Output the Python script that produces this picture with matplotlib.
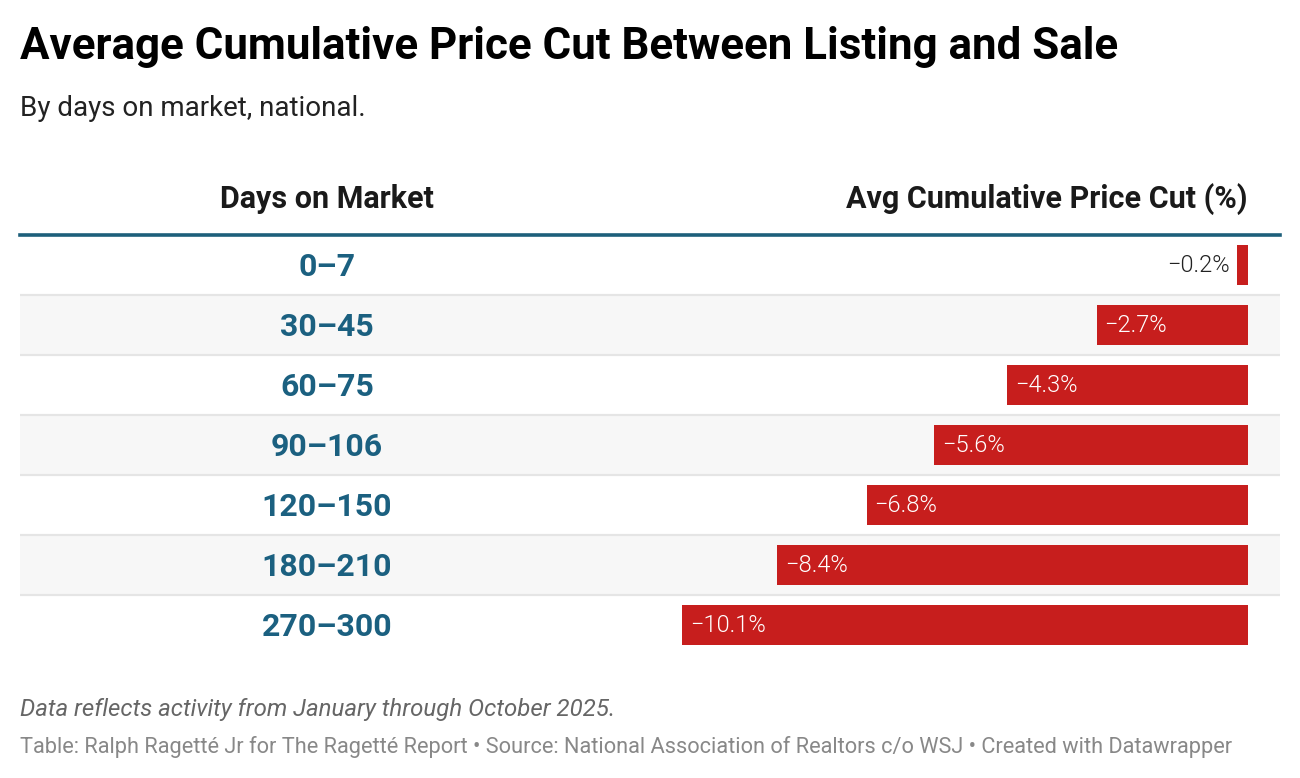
import matplotlib
matplotlib.use("Agg")
import matplotlib.pyplot as plt
import matplotlib.transforms as mtransforms

plt.rcParams['font.family'] = ['Roboto', 'DejaVu Sans']

categories = ["0–7", "30–45", "60–75", "90–106", "120–150", "180–210", "270–300"]
values = [-0.2, -2.7, -4.3, -5.6, -6.8, -8.4, -10.1]
labels = ["−0.2%", "−2.7%", "−4.3%", "−5.6%", "−6.8%", "−8.4%", "−10.1%"]

title = "Average Cumulative Price Cut Between Listing and Sale"
subtitle = "By days on market, national."
col1 = "Days on Market"
col2 = "Avg Cumulative Price Cut (%)"
note = "Data reflects activity from January through October 2025."
source = "Table: Ralph Ragetté Jr for The Ragetté Report • Source: National Association of Realtors c/o WSJ • Created with Datawrapper"

W, H = 1300, 778
fig = plt.figure(figsize=(W / 100, H / 100), dpi=100)
fig.patch.set_facecolor("white")

RED = "#c71e1d"
TEAL = "#1b6080"

top, bottom = 235, 655
left, right = 20, 1280
ax = fig.add_axes([left / W, 1 - bottom / H, (right - left) / W, (bottom - top) / H])
ax.set_axis_off()

scale = 566 / 10.1  # px per unit
zero_px = 1248
ax.set_xlim(-(zero_px - left) / scale, (right - zero_px) / scale)
n = len(categories)
ax.set_ylim(n - 0.5, -0.5)

for i in range(n):
    if i % 2 == 1:
        ax.axhspan(i - 0.5, i + 0.5, color="#f7f7f7", zorder=0, lw=0)
    if i > 0:
        ax.axhline(i - 0.5, color="#e5e5e5", lw=1.6, zorder=1)

ax.barh(range(n), values, height=40 / 60, left=0, color=RED, zorder=2)

trans_lab = mtransforms.blended_transform_factory(fig.transFigure, ax.transData)
for i, (c, v, lab) in enumerate(zip(categories, values, labels)):
    ax.annotate(c, (327 / W, i), xycoords=trans_lab, xytext=(0, -1.5),
                textcoords="offset points", ha="center", va="center",
                fontsize=23, fontweight="bold", color=TEAL)
    if abs(v) < 1:
        ax.annotate(lab, (v, i), xytext=(-5, -0.5), textcoords="offset points",
                    ha="right", va="center", fontsize=17, fontweight=300,
                    color="#222222")
    else:
        ax.annotate(lab, (v, i), xytext=(5.5, -0.5), textcoords="offset points",
                    ha="left", va="center", fontsize=17, fontweight=300,
                    color="white")

# header line
fig.add_artist(plt.Line2D([left / W, right / W], [1 - 235 / H, 1 - 235 / H],
                          transform=fig.transFigure, color="#1d5f7b", lw=2.6))

fig.text(20 / W, 1 - 47.5 / H, title, ha="left", va="center", fontsize=31.6,
         fontweight="bold", color="#000000")
fig.text(20 / W, 1 - 109 / H, subtitle, ha="left", va="center", fontsize=20,
         color="#222222")
fig.text(327 / W, 1 - 199 / H, col1, ha="center", va="center", fontsize=22,
         fontweight="bold", color="#1a1a1a")
fig.text(1248 / W, 1 - 199 / H, col2, ha="right", va="center", fontsize=22,
         fontweight="bold", color="#1a1a1a")
fig.text(20 / W, 1 - 709.5 / H, note, ha="left", va="center", fontsize=17.3,
         style="italic", color="#666666")
fig.text(20 / W, 1 - 746.5 / H, source, ha="left", va="center", fontsize=15.7,
         color="#888888")

fig.savefig("out.png", dpi=100, facecolor="white")
